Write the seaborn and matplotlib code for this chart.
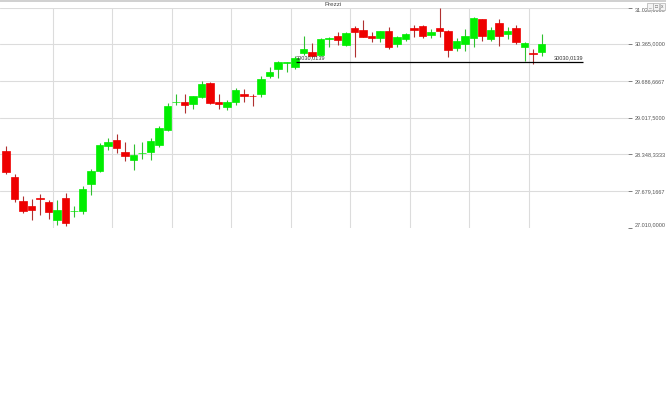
import numpy as np
import pandas as pd
import seaborn as sns
import matplotlib.pyplot as plt
from matplotlib.lines import Line2D
from matplotlib.patches import Rectangle

# daily candles (OHLC)
opens = [28410, 27935, 27490, 27412, 27545, 27472, 27156, 27545, 27305, 27308,
         27814, 28044, 28505, 28605, 28382, 28252, 28370, 28386, 28514, 28788,
         29295, 29305, 29259, 29396, 29646, 29294, 29208, 29305, 29451, 29412,
         29445, 29774, 29897, 30015, 29939, 30189, 30207, 30158, 30458, 30511,
         30341, 30646, 30615, 30505, 30474, 30596, 30359, 30445, 30646, 30688,
         30523, 30646, 30596, 30280, 30359, 30463, 30816, 30445, 30737, 30542,
         30657, 30299, 30192, 30218]
highs = [28495, 27985, 27582, 27540, 27618, 27509, 27522, 27642, 27399, 27765,
         28075, 28563, 28654, 28727, 28578, 28537, 28581, 28647, 28861, 29287,
         29445, 29445, 29418, 29683, 29665, 29445, 29345, 29560, 29531, 29445,
         29774, 29933, 30058, 30040, 30140, 30505, 30372, 30469, 30492, 30573,
         30578, 30693, 30797, 30573, 30605, 30664, 30511, 30565, 30706, 30706,
         30628, 31025, 30620, 30468, 30633, 30847, 30825, 30664, 30816, 30675,
         30706, 30395, 30262, 30536]
lows = [27985, 27478, 27284, 27143, 27235, 27174, 27052, 27040, 27204, 27258,
        27600, 28030, 28428, 28373, 28227, 28070, 28267, 28252, 28483, 28769,
        29244, 29107, 29180, 29381, 29260, 29166, 29153, 29244, 29305, 29226,
        29385, 29732, 29732, 29853, 29908, 30158, 30130, 30140, 30310, 30341,
        30328, 30127, 30481, 30401, 30401, 30273, 30310, 30419, 30492, 30463,
        30463, 30492, 30127, 30237, 30237, 30310, 30419, 30419, 30328, 30445,
        30353, 30054, 29994, 30140]
closes = [28025, 27540, 27313, 27326, 27538, 27302, 27326, 27101, 27310, 27723,
          28044, 28526, 28578, 28464, 28318, 28344, 28380, 28592, 28830, 29226,
          29302, 29239, 29403, 29628, 29275, 29257, 29308, 29518, 29409, 29405,
          29714, 29853, 30036, 30025, 30112, 30262, 30145, 30445, 30466, 30432,
          30565, 30573, 30492, 30474, 30596, 30310, 30492, 30536, 30615, 30511,
          30584, 30602, 30249, 30414, 30505, 30829, 30511, 30615, 30505, 30596,
          30401, 30372, 30186, 30365]

# support line drawn by the user
support_level = 30030.0139
support_label = "30030,0139"
support_from = 34.1
support_to = 67.9

ytick_vals = [27010.0, 27679.1667, 28348.3333, 29017.5, 29686.6667, 30365.0, 31025.0]
ytick_labels = ["27.010,0000", "27.679,1667", "28.348,3333", "29.017,5000",
                "29.686,6667", "30.365,0000", "31.025,0000"]
week_marks = [5.5, 12.5, 19.5, 26.5, 33.5, 40.5, 47.5, 54.5, 61.5]

df = pd.DataFrame({"open": opens, "high": highs, "low": lows, "close": closes})
df["idx"] = np.arange(len(df))
df["up"] = df["close"] >= df["open"]

sns.set_theme(style="white")
plt.rcParams["font.family"] = ["Liberation Sans", "DejaVu Sans"]

fig = plt.figure(figsize=(6.66, 4.0), dpi=100)
ax = fig.add_axes([0.0, 0.431, 0.943, 0.55])

green, red = "#00ee00", "#ee0000"
wick_green, wick_red = "#30c030", "#b03030"

# wicks
for up, wc in [(True, wick_green), (False, wick_red)]:
    d = df[df["up"] == up]
    ax.vlines(d["idx"], d["low"], d["high"], color=wc, linewidth=0.8, zorder=2)

# bodies
for up, bc in [(True, green), (False, red)]:
    d = df[df["up"] == up]
    lo = np.minimum(d["open"], d["close"])
    h = (d["close"] - d["open"]).abs()
    ax.bar(d["idx"], h, bottom=lo, width=0.84, color=bc, edgecolor=bc,
           linewidth=0.5, zorder=3)

# support line + labels
ax.hlines(support_level, support_from, support_to, color="black", linewidth=0.9, zorder=4)
ax.text(support_from, support_level + 40, support_label, fontsize=4, color="#333333",
        ha="left", va="bottom", zorder=5)
ax.text(support_to, support_level + 40, support_label, fontsize=4, color="#333333",
        ha="right", va="bottom", zorder=5)

ax.set_xlim(-0.706, 73.18)
ax.set_ylim(27010, 31025)
ax.set_xticks(week_marks)
ax.set_xticklabels([])
ax.tick_params(axis="x", length=0)
ax.set_yticks(ytick_vals)
ax.set_yticklabels(ytick_labels)
ax.yaxis.tick_right()
ax.tick_params(axis="y", length=3, width=0.6, color="#666666", pad=1.5,
               labelsize=4, labelcolor="#555555")
lbls = ax.get_yticklabels()
lbls[-1].set_va("top")
lbls[0].set_va("bottom")

ax.grid(True, color="#dcdcdc", linewidth=0.8)
ax.yaxis.get_gridlines()[0].set_visible(False)
ax.set_axisbelow(True)
sns.despine(ax=ax, left=True, bottom=True, right=True, top=True)

# window title bar bits
fig.add_artist(Line2D([0, 1], [0.9975, 0.9975], color="#c8c8c8", linewidth=1.2))
fig.text(0.4995, 0.989, "Prezzi", fontsize=4.5, color="#444444", ha="center", va="center")
for k, g in enumerate(["_", "□", "x"]):
    x0 = 0.9715 + k * 0.0095
    fig.add_artist(Rectangle((x0, 0.975), 0.0085, 0.018, transform=fig.transFigure,
                             facecolor="#f4f4f4", edgecolor="#b0b0b0", linewidth=0.5))
    fig.text(x0 + 0.00425, 0.984, g, fontsize=3.5, color="#666666",
             ha="center", va="center")

fig.savefig("out.png", dpi=100)
